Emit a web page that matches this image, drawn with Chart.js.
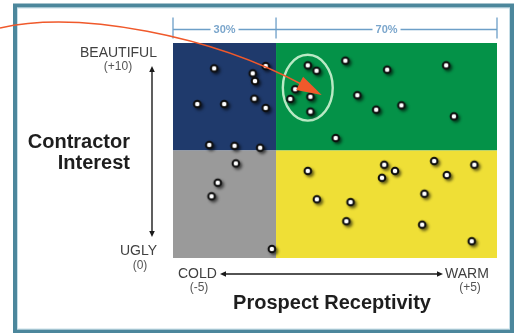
<!DOCTYPE html>
<html>
<head>
<meta charset="utf-8">
<script src="https://cdn.jsdelivr.net/npm/chart.js@4/dist/chart.umd.min.js"></script>
<style>
  html, body { margin: 0; padding: 0; background: #ffffff; }
  canvas { display: block; }
</style>
</head>
<body>
<canvas id="grid" width="516" height="333"></canvas>
<script>
// Prospect receptivity (x, -5 cold .. +5 warm) and contractor interest (y, 0 ugly .. 10 beautiful)
const receptivity = [
  -3.73, -2.54, -2.47, -2.14, -4.25, -3.42, -2.49, -2.14, -3.88, -3.10, -2.31,
  -0.84, -0.57, -1.23, -1.38, -0.76, -0.76, 0.32, 1.61, 3.43, 0.69, 1.27, 2.05, 3.67, 0.02,
  -3.06, -3.62, -3.81, -1.95,
  -0.84, -0.56, 0.48, 0.35, 1.52, 1.85, 1.45, 3.06, 3.45, 4.30, 2.76, 2.69, 4.22
];
const interest = [
  8.82, 8.59, 8.23, 8.93, 7.16, 7.16, 7.41, 6.98, 5.26, 5.22, 5.13,
  8.96, 8.71, 7.85, 7.40, 7.50, 6.81, 9.18, 8.76, 8.96, 7.57, 6.90, 7.10, 6.59, 5.58,
  4.40, 3.50, 2.87, 0.42,
  4.05, 2.73, 2.60, 1.71, 4.34, 4.05, 3.73, 4.51, 3.86, 4.34, 2.99, 1.55, 0.78
];

// Axis ranges and the split between the cold and warm share / low and high interest
const xRange = [-5, 5];
const yRange = [0, 10];
const splitX = -1.82;
const splitY = 5;
const shareLabels = ['30%', '70%'];

// Quadrant fills: top-left, top-right, bottom-left, bottom-right
const quadrantColors = ['#1f3a6c', '#049248', '#9a9a9a', '#efdf36'];

// Highlighted cluster (centre and radii in data units) and the arrow's target
const cluster = { x: -0.84, y: 7.92, rx: 0.77, ry: 1.53 };
const arrowTip = { x: -0.41, y: 7.58 };

// Axis end labels
const yTopLabel = ['BEAUTIFUL', '(+10)'];
const yBottomLabel = ['UGLY', '(0)'];
const xLeftLabel = ['COLD', '(-5)'];
const xRightLabel = ['WARM', '(+5)'];
const yTitle = ['Contractor', 'Interest'];
const xTitle = 'Prospect Receptivity';

const FONT = "'Liberation Sans', Arial, Helvetica, sans-serif";

// White dot with a dark rim and a soft drop shadow
function makeDot() {
  const c = document.createElement('canvas');
  c.width = 22; c.height = 22;
  const g = c.getContext('2d');
  g.shadowColor = 'rgba(0,0,0,0.6)';
  g.shadowBlur = 3;
  g.shadowOffsetX = 2;
  g.shadowOffsetY = 2;
  g.fillStyle = '#0c0c0c';
  g.beginPath(); g.arc(11, 11, 4.3, 0, Math.PI * 2); g.fill();
  g.shadowColor = 'transparent';
  const rg = g.createRadialGradient(11, 11, 0, 11, 11, 2.6);
  rg.addColorStop(0, '#ffffff');
  rg.addColorStop(0.7, '#ffffff');
  rg.addColorStop(1, 'rgba(255,255,255,0.2)');
  g.fillStyle = rg;
  g.beginPath(); g.arc(11, 11, 2.6, 0, Math.PI * 2); g.fill();
  return c;
}

function arrowHead(ctx, x, y, angle, len, half) {
  ctx.save();
  ctx.translate(x, y);
  ctx.rotate(angle);
  ctx.beginPath();
  ctx.moveTo(0, 0);
  ctx.lineTo(-len, -half);
  ctx.lineTo(-len, half);
  ctx.closePath();
  ctx.fill();
  ctx.restore();
}

const decorations = {
  id: 'decorations',
  beforeDraw(chart) {
    const ctx = chart.ctx;
    ctx.save();
    ctx.fillStyle = '#ffffff';
    ctx.fillRect(0, 0, chart.width, chart.height);
    // outer frame
    ctx.strokeStyle = '#4c879c';
    ctx.lineWidth = 4;
    ctx.strokeRect(15, 5.5, 497, 326);
    ctx.strokeStyle = 'rgba(160,200,215,0.6)';
    ctx.lineWidth = 1;
    ctx.strokeRect(17.5, 8, 492, 321);
    ctx.restore();
  },
  beforeDatasetsDraw(chart) {
    const ctx = chart.ctx;
    const xs = chart.scales.x, ys = chart.scales.y;
    const a = chart.chartArea;
    const sx = xs.getPixelForValue(splitX);
    const sy = ys.getPixelForValue(splitY);
    ctx.save();
    ctx.fillStyle = quadrantColors[0]; ctx.fillRect(a.left, a.top, sx - a.left, sy - a.top);
    ctx.fillStyle = quadrantColors[1]; ctx.fillRect(sx, a.top, a.right - sx, sy - a.top);
    ctx.fillStyle = quadrantColors[2]; ctx.fillRect(a.left, sy, sx - a.left, a.bottom - sy);
    ctx.fillStyle = quadrantColors[3]; ctx.fillRect(sx, sy, a.right - sx, a.bottom - sy);

    // cluster ring
    const cx = xs.getPixelForValue(cluster.x);
    const cy = ys.getPixelForValue(cluster.y);
    const rx = Math.abs(xs.getPixelForValue(cluster.x + cluster.rx) - cx);
    const ry = Math.abs(ys.getPixelForValue(cluster.y + cluster.ry) - cy);
    ctx.strokeStyle = '#b9e9c4';
    ctx.lineWidth = 2.4;
    ctx.beginPath();
    ctx.ellipse(cx, cy, rx, ry, 0, 0, Math.PI * 2);
    ctx.stroke();
    ctx.restore();
  },
  afterDatasetsDraw(chart) {
    const ctx = chart.ctx;
    const xs = chart.scales.x, ys = chart.scales.y;
    const a = chart.chartArea;
    const sx = xs.getPixelForValue(splitX);
    ctx.save();

    // share bracket above the plot
    const by = a.top - 13.5;
    ctx.strokeStyle = '#6d9fc8';
    ctx.fillStyle = '#7ba6cc';
    ctx.lineWidth = 1.3;
    ctx.font = 'bold 11px ' + FONT;
    ctx.textAlign = 'center';
    ctx.textBaseline = 'middle';
    [[a.left, sx, shareLabels[0]], [sx, a.right, shareLabels[1]]].forEach(([l, r, t]) => {
      const mid = (l + r) / 2;
      const w = ctx.measureText(t).width / 2 + 3;
      ctx.beginPath();
      ctx.moveTo(l, by); ctx.lineTo(mid - w, by);
      ctx.moveTo(mid + w, by); ctx.lineTo(r, by);
      ctx.stroke();
      ctx.fillText(t, mid, by + 0.5);
    });
    ctx.beginPath();
    [a.left, sx, a.right].forEach(x => {
      ctx.moveTo(x, by - 12); ctx.lineTo(x, by + 9);
    });
    ctx.stroke();

    // vertical interest arrow
    ctx.strokeStyle = '#1a1a1a';
    ctx.fillStyle = '#1a1a1a';
    ctx.lineWidth = 1.4;
    const vx = a.left - 21;
    const vTop = a.top + 23, vBot = a.bottom - 21;
    ctx.beginPath(); ctx.moveTo(vx, vTop + 4); ctx.lineTo(vx, vBot - 4); ctx.stroke();
    arrowHead(ctx, vx, vTop, -Math.PI / 2, 6, 2.8);
    arrowHead(ctx, vx, vBot, Math.PI / 2, 6, 2.8);

    // horizontal receptivity arrow
    const hy = a.bottom + 16;
    const hL = a.left + 47, hR = a.left + 270;
    ctx.beginPath(); ctx.moveTo(hL + 4, hy); ctx.lineTo(hR - 4, hy); ctx.stroke();
    arrowHead(ctx, hL, hy, Math.PI, 6, 2.8);
    arrowHead(ctx, hR, hy, 0, 6, 2.8);

    // end labels
    ctx.fillStyle = '#404040';
    ctx.font = '14px ' + FONT;
    ctx.textBaseline = 'middle';
    ctx.textAlign = 'right';
    ctx.fillText(yTopLabel[0], 157, a.top + 10);
    ctx.fillText(yBottomLabel[0], 157, a.bottom - 7);
    ctx.textAlign = 'left';
    ctx.fillText(xLeftLabel[0], 178, hy);
    ctx.fillText(xRightLabel[0], 445, hy);
    ctx.font = '12px ' + FONT;
    ctx.fillStyle = '#555555';
    ctx.textAlign = 'center';
    ctx.fillText(yTopLabel[1], 118, a.top + 24);
    ctx.fillText(yBottomLabel[1], 140, a.bottom + 8);
    ctx.fillText(xLeftLabel[1], 199, hy + 14);
    ctx.fillText(xRightLabel[1], 470, hy + 14);

    // axis titles
    ctx.fillStyle = '#1e1e1e';
    ctx.font = 'bold 20px ' + FONT;
    ctx.textAlign = 'right';
    ctx.fillText(yTitle[0], 130, 142);
    ctx.fillText(yTitle[1], 130, 163);
    ctx.textAlign = 'center';
    ctx.fillText(xTitle, 332, 303);

    // pointer arrow to the highlighted cluster
    const tx = xs.getPixelForValue(arrowTip.x);
    const ty = ys.getPixelForValue(arrowTip.y);
    const ang = Math.atan2(12, 22.7);
    const hb = { x: tx - 24 * Math.cos(ang), y: ty - 24 * Math.sin(ang) };
    ctx.strokeStyle = '#f0592b';
    ctx.fillStyle = '#f0592b';
    ctx.lineWidth = 1.6;
    ctx.beginPath();
    ctx.moveTo(0, 28);
    ctx.bezierCurveTo(80, 10, hb.x - 89, hb.y - 48, hb.x + 2, hb.y + 1);
    ctx.stroke();
    arrowHead(ctx, tx, ty, ang, 25, 7.5);

    ctx.restore();
  }
};

const points = receptivity.map((x, i) => ({ x, y: interest[i] }));

new Chart(document.getElementById('grid'), {
  type: 'scatter',
  data: {
    datasets: [{
      data: points,
      pointStyle: makeDot(),
      pointRadius: 5,
      clip: false
    }]
  },
  options: {
    responsive: false,
    devicePixelRatio: 1,
    animation: false,
    events: [],
    layout: { padding: { left: 173, right: 19, top: 43, bottom: 75 } },
    plugins: { legend: { display: false }, tooltip: { enabled: false } },
    scales: {
      x: { type: 'linear', min: xRange[0], max: xRange[1], display: false },
      y: { type: 'linear', min: yRange[0], max: yRange[1], display: false }
    }
  },
  plugins: [decorations]
});
</script>
</body>
</html>
